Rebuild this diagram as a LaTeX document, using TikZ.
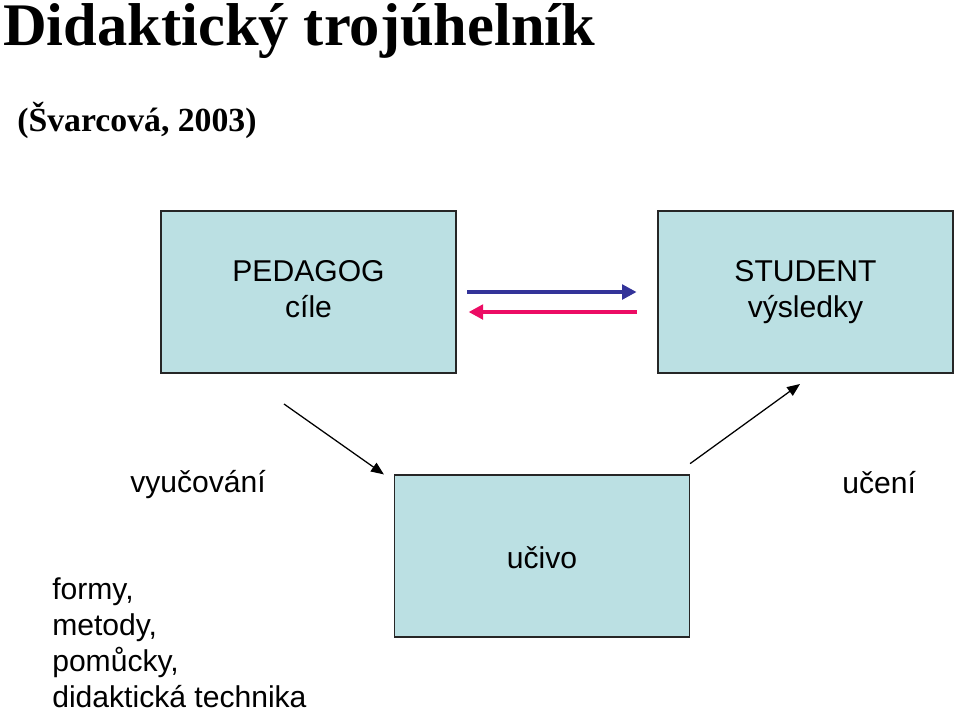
\documentclass[tikz,border=0pt]{standalone}
\usepackage{fontspec}
\setmainfont{Liberation Sans}
\newfontfamily\titulek{Liberation Serif}
\usepackage{xcolor}
\usetikzlibrary{arrows.meta}

\begin{document}
\begin{tikzpicture}[x=0.025cm, y=-0.025cm,
        box/.style={draw=black!85, line width=0.8pt, fill=ramecek, inner sep=0pt,
            minimum width=7.375cm, minimum height=4.05cm, align=center,
            font=\fontsize{21.4}{25.6}\selectfont},
        popis/.style={inner sep=0pt, anchor=base west, align=left,
            font=\fontsize{21.4}{25.6}\selectfont},
        silna/.style={line width=2.8pt, -{Triangle[length=0.36cm, width=0.36cm]}},
        tenka/.style={line width=0.9pt, -{Triangle[length=0.32cm, width=0.26cm]}}]
        % Barvy
        \definecolor{ramecek}{RGB}{187,224,227}
        \definecolor{modra}{RGB}{51,51,153}
        \definecolor{ruzova}{RGB}{236,12,100}
        \useasboundingbox (0,0) rectangle (959,712);

        % Nadpis
        \node (nadpis) at (3,45) [inner sep=0pt, anchor=base west, font=\titulek\bfseries\fontsize{43}{48}\selectfont]{Didaktický trojúhelník};
        \node (zdroj) at (17,131) [inner sep=0pt, anchor=base west, font=\titulek\bfseries\fontsize{24}{28}\selectfont]{(Švarcová, 2003)};

        % Tri vrcholy trojuhelniku
        \node (pedagog) at (308.5,292) [box]{PEDAGOG\\cíle\vphantom{ý}};
        \node (student) at (805.5,292) [box]{STUDENT\\výsledky};
        \node (ucivo) at (542,556) [box]{};
        \node (ucivotext) at (542,568) [inner sep=0pt, anchor=base, font=\fontsize{21.4}{25.6}\selectfont]{učivo};

        % Popisky
        \node (vyucovani) at (130,492) [popis]{vyučování};
        \node (uceni) at (842,493) [popis]{učení};
        \node (prostredky) at (52,707) [popis]{formy,\\metody,\\pomůcky,\\didaktická technika};

        % Sipky mezi pedagogem a studentem
        \draw[silna, modra, shorten <=0.27cm, shorten >=0.52cm] (pedagog.east) -- (student.west);
        \draw[silna, ruzova, shorten <=0.52cm, shorten >=0.3cm] ([yshift=-0.5cm]student.west) -- ([yshift=-0.5cm]pedagog.east);

        % Sipky pres ucivo
        \coordinate (vyucstart) at (284,404);
        \coordinate (ucenikonec) at (800,384);
        \draw[tenka] (vyucstart) -- ([xshift=-0.25cm]ucivo.north west);
        \draw[tenka] ([yshift=0.27cm]ucivo.north east) -- (ucenikonec);
    \end{tikzpicture}
\end{document}
